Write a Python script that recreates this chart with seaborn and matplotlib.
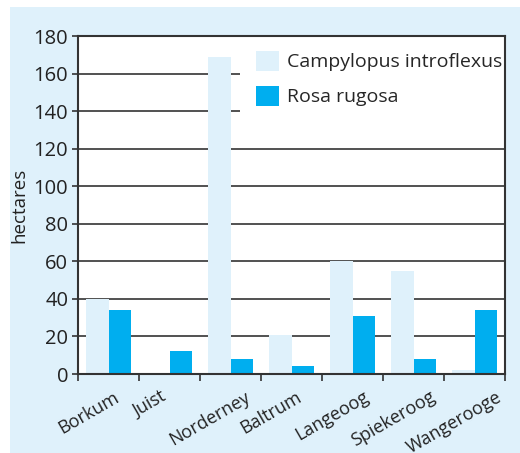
import matplotlib
matplotlib.use("Agg")
import matplotlib.pyplot as plt
import seaborn as sns
import pandas as pd
from matplotlib.patches import Rectangle

islands = ["Borkum", "Juist", "Norderney", "Baltrum", "Langeoog", "Spiekeroog", "Wangerooge"]
campylopus = [40, 0, 169, 21, 60, 55, 2]
rosa = [34, 12, 8, 4, 31, 8, 34]
series_names = ["Campylopus introflexus", "Rosa rugosa"]
y_ticks = [0, 20, 40, 60, 80, 100, 120, 140, 160, 180]

df = pd.DataFrame({
    "island": islands * 2,
    "value": campylopus + rosa,
    "species": [series_names[0]] * len(islands) + [series_names[1]] * len(islands),
})

sns.set_style("white")
plt.rcParams["font.family"] = ["Open Sans", "DejaVu Sans"]

W, H = 520, 453
fig = plt.figure(figsize=(W / 100, H / 100), dpi=100)
fig.patch.set_facecolor("white")
fig.patches.append(Rectangle((10 / W, 0), 1 - 10 / W, 1 - 7 / H, transform=fig.transFigure,
                             facecolor="#dff1fb", edgecolor="none", zorder=-10))

ax_l, ax_r, ax_t, ax_b = 78, 505, 36, 374
ax = fig.add_axes([ax_l / W, (H - ax_b) / H, (ax_r - ax_l) / W, (ax_b - ax_t) / H])
ax.set_facecolor("white")

colors = ["#dff1fb", "#00aeef"]
sns.barplot(data=df, x="island", y="value", hue="species", palette=colors,
            width=0.75, gap=0, saturation=1, edgecolor="none", linewidth=0, ax=ax)

ax.set_ylim(0, 180)
ax.set_xlim(-0.5, len(islands) - 0.5)
ax.set_yticks(y_ticks)
ax.yaxis.grid(True, color="#333333", linewidth=1.2)
ax.set_axisbelow(True)

for s in ax.spines.values():
    s.set_visible(True)
    s.set_color("#333333")
    s.set_linewidth(1.5)
    s.set_zorder(6)

ax.tick_params(axis="y", direction="out", length=4, width=1.2, color="#333333",
               labelsize=14.5, labelcolor="#222222", pad=3, left=True)
# labels sit slightly left of each group's centre, as in the reference
label_shift = 0.33
ax.set_xticks([i - label_shift for i in range(len(islands))])
ax.set_xticks([i - 0.5 for i in range(len(islands) + 1)], minor=True)
ax.tick_params(axis="x", which="major", length=0, labelsize=13, labelcolor="#222222", pad=10)
ax.tick_params(axis="x", which="minor", direction="out", length=5, width=1.2,
               color="#333333", bottom=True)
ax.set_xticklabels(islands, rotation=30, ha="center", va="top")
ax.set_xlabel("")
ax.set_ylabel("hectares", fontsize=13.5, color="#222222", labelpad=4)

# white legend background box
axw, axh = ax_r - ax_l, ax_b - ax_t
ax.add_patch(Rectangle(((240 - ax_l) / axw, (ax_b - 124) / axh), (ax_r - 240) / axw, (124 - ax_t) / axh,
                       transform=ax.transAxes, facecolor="white", edgecolor="none", zorder=4))

leg = ax.legend(loc="upper right", bbox_to_anchor=(1 + 12 / axw, 1), frameon=False, fontsize=14,
                handlelength=1.2, handleheight=1.2, handletextpad=0.4,
                labelspacing=0.75, borderaxespad=0.05, borderpad=0.7)
leg.set_zorder(7)

fig.savefig("out.png", dpi=100)
